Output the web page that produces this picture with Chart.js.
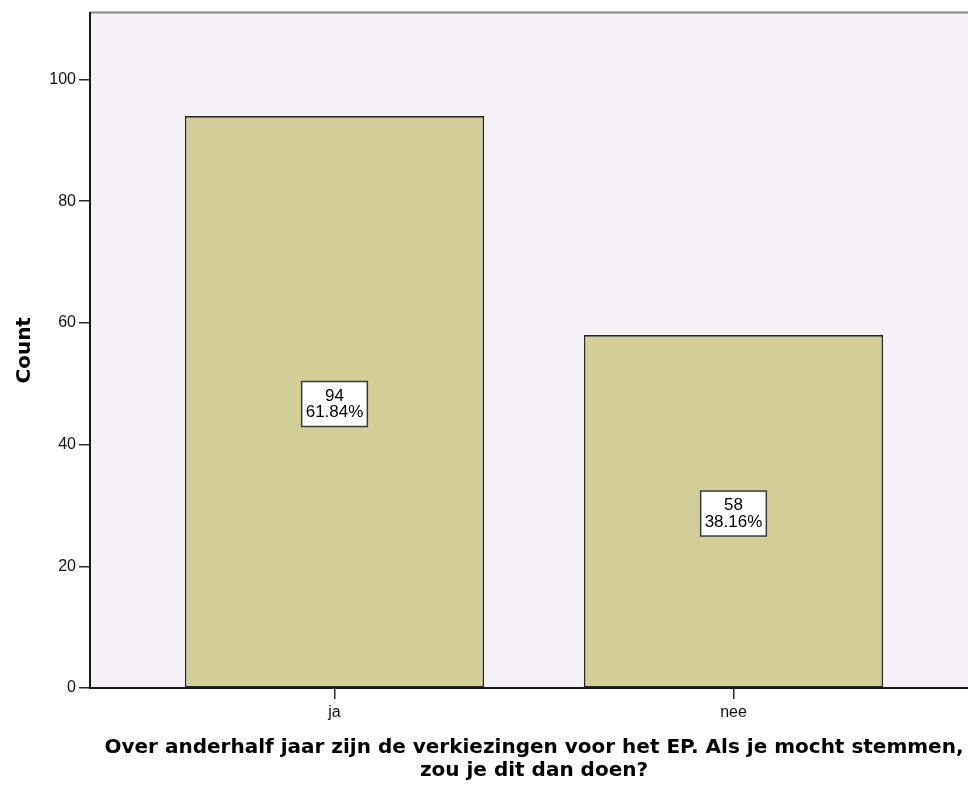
<!DOCTYPE html>
<html>
<head>
<meta charset="utf-8">
<script src="https://cdn.jsdelivr.net/npm/chart.js@4/dist/chart.umd.min.js"></script>
<style>
html, body { margin: 0; padding: 0; overflow: hidden; background: #ffffff; }
#wrap { width: 978px; height: 787px; }
</style>
</head>
<body>
<div id="wrap"><canvas id="c" width="978" height="787"></canvas></div>
<script>
const categories = ['ja', 'nee'];
const counts = [94, 58];
const yTickValues = [0, 20, 40, 60, 80, 100];
const yAxisTitle = 'Count';
const xAxisTitle = ['Over anderhalf jaar zijn de verkiezingen voor het EP. Als je mocht stemmen,', 'zou je dit dan doen?'];

const total = counts.reduce((a, b) => a + b, 0);

const plotBg = {
  id: 'plotBg',
  beforeDraw(chart) {
    const {ctx, chartArea: a} = chart;
    ctx.save();
    ctx.fillStyle = '#f6f1f6';
    ctx.fillRect(a.left, a.top, a.right - a.left, a.bottom - a.top);
    ctx.strokeStyle = '#8a8a8a';
    ctx.lineWidth = 2;
    ctx.beginPath();
    ctx.moveTo(a.left, a.top);
    ctx.lineTo(a.right, a.top);
    ctx.stroke();
    ctx.restore();
  }
};

const boxLabels = {
  id: 'boxLabels',
  afterDatasetsDraw(chart) {
    const {ctx} = chart;
    const meta = chart.getDatasetMeta(0);
    const ys = chart.scales.y;
    ctx.save();
    ctx.font = '17px "Liberation Sans", Arial, sans-serif';
    ctx.textAlign = 'center';
    ctx.textBaseline = 'middle';
    meta.data.forEach((bar, i) => {
      const v = counts[i];
      const l1 = String(v);
      const l2 = (v / total * 100).toFixed(2) + '%';
      const cx = bar.x;
      const cy = ys.getPixelForValue(v / 2) + 2;
      const w = Math.max(ctx.measureText(l1).width, ctx.measureText(l2).width) + 8;
      const h = 45;
      ctx.fillStyle = '#ffffff';
      ctx.fillRect(cx - w / 2, cy - h / 2, w, h);
      ctx.strokeStyle = '#3a3a3a';
      ctx.lineWidth = 1.5;
      ctx.strokeRect(cx - w / 2, cy - h / 2, w, h);
      ctx.fillStyle = '#000000';
      ctx.fillText(l1, cx, cy - 8);
      ctx.fillText(l2, cx, cy + 8.5);
    });
    ctx.restore();
  }
};

new Chart(document.getElementById('c'), {
  type: 'bar',
  data: {
    datasets: [{
      data: counts.map((v, i) => ({x: i, y: v})),
      backgroundColor: '#d3ce97',
      borderColor: '#262626',
      borderWidth: 1.6,
      borderSkipped: false,
      barPercentage: 0.75,
      categoryPercentage: 1.0
    }]
  },
  options: {
    responsive: false,
    animation: false,
    layout: { padding: { top: 12, left: 0, right: 0, bottom: 0 } },
    plugins: { legend: { display: false }, tooltip: { enabled: false } },
    scales: {
      x: {
        type: 'linear',
        offset: false,
        min: -0.6128,
        max: 1.6128,
        afterBuildTicks(scale) { scale.ticks = categories.map((c, i) => ({value: i})); },
        afterFit(scale) { scale.height = 99; },
        ticks: {
          callback: (v) => categories[v],
          font: { family: '"Liberation Sans", Arial, sans-serif', size: 16 },
          color: '#111111',
          padding: 4,
          maxRotation: 0,
          autoSkip: false
        },
        grid: { display: true, offset: false, drawOnChartArea: false, drawTicks: true, tickLength: 11, color: '#2a2a2a', lineWidth: 1.5 },
        border: { display: true, color: '#1a1a1a', width: 2 },
        title: {
          display: true,
          text: xAxisTitle,
          font: { family: '"DejaVu Sans", Verdana, sans-serif', size: 20, weight: 'bold', lineHeight: 1.15 },
          color: '#000000',
          padding: { top: 0, bottom: 4.5 }
        }
      },
      y: {
        min: 0,
        max: 111,
        afterBuildTicks(scale) { scale.ticks = yTickValues.map(v => ({value: v})); },
        afterFit(scale) { scale.width = 90; },
        ticks: {
          font: { family: '"Liberation Sans", Arial, sans-serif', size: 16 },
          color: '#111111',
          padding: 3
        },
        grid: { display: true, drawOnChartArea: false, drawTicks: true, tickLength: 11, color: '#2a2a2a', lineWidth: 1.5 },
        border: { display: true, color: '#1a1a1a', width: 2 },
        title: {
          display: true,
          text: yAxisTitle,
          font: { family: '"DejaVu Sans", Verdana, sans-serif', size: 20, weight: 'bold', lineHeight: 1.15 },
          color: '#000000',
          padding: { top: 13, bottom: 0 }
        }
      }
    }
  },
  plugins: [plotBg, boxLabels]
});
</script>
</body>
</html>
